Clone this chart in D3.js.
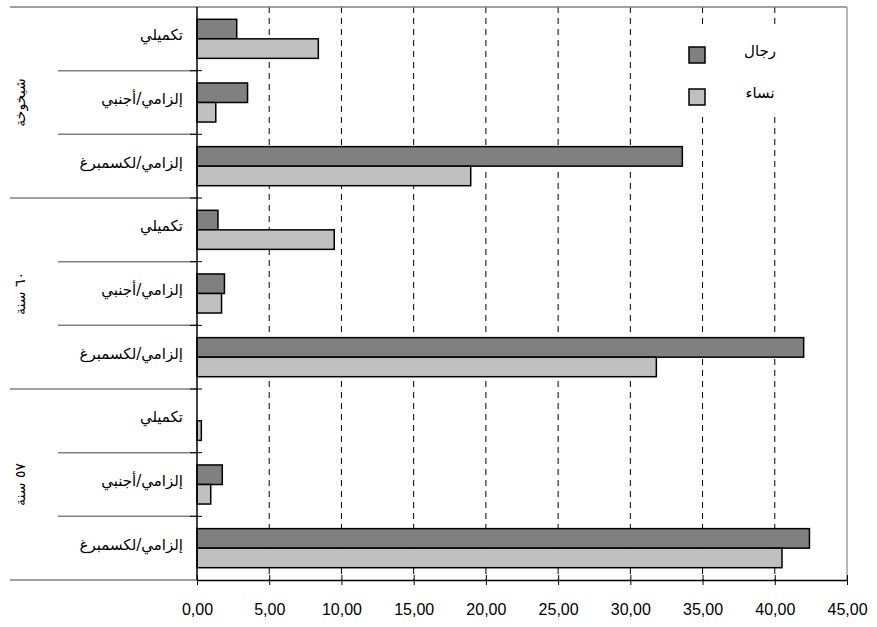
<!DOCTYPE html>
<html>
<head>
<meta charset="utf-8">
<script src="https://cdn.jsdelivr.net/npm/d3@7"></script>
<style>
  html, body { margin: 0; padding: 0; background: #fff; }
  svg { display: block; }
</style>
</head>
<body>
<svg id="chart" width="877" height="627"></svg>
<script>
// Age groups (top to bottom) and pension regimes within each group
const groups = ["شيخوخة", "٦٠ سنة", "٥٧ سنة"];
const regimes = ["تكميلي", "إلزامي/أجنبي", "إلزامي/لكسمبرغ"];
const series = ["رجال", "نساء"];

// Values per group, in regime order
const men   = [[2.75, 3.5, 33.6], [1.45, 1.9, 42.0], [0, 1.75, 42.4]];
const women = [[8.4, 1.3, 18.95], [9.5, 1.7, 31.8], [0.3, 0.95, 40.5]];

const xTicks = [0, 5, 10, 15, 20, 25, 30, 35, 40, 45];

const colors = { "رجال": "#808080", "نساء": "#c0c0c0" };
const arabicFont = "'DejaVu Sans', sans-serif";

const svg = d3.select("#chart");

const plotLeft = 197, plotRight = 847, plotTop = 7, plotBottom = 580;

const x = d3.scaleLinear().domain([0, 45]).range([plotLeft, plotRight]);

// One row per (group, regime)
const rows = [];
groups.forEach((g, gi) => regimes.forEach((r, ri) => rows.push({
  key: gi + "|" + ri, group: g, regime: r,
  values: { "رجال": men[gi][ri], "نساء": women[gi][ri] }
})));

const y = d3.scaleBand().domain(rows.map(d => d.key)).range([plotTop, plotBottom]).padding(0);
const ySub = d3.scaleBand().domain(series).range([0, y.bandwidth()])
  .paddingInner(0).paddingOuter(0.63);

// Vertical dashed gridlines
svg.append("g").selectAll("line")
  .data(xTicks.filter(t => t > 0 && t < 45))
  .join("line")
  .attr("x1", d => x(d)).attr("x2", d => x(d))
  .attr("y1", plotTop).attr("y2", plotBottom)
  .attr("stroke", "#000").attr("stroke-width", 1)
  .attr("stroke-dasharray", "6,5");

// Top frame and right frame
svg.append("line").attr("x1", 10).attr("x2", plotRight).attr("y1", plotTop).attr("y2", plotTop)
  .attr("stroke", "#808080").attr("stroke-width", 1.5);
svg.append("line").attr("x1", plotRight).attr("x2", plotRight).attr("y1", plotTop).attr("y2", plotBottom)
  .attr("stroke", "#a0a0a0").attr("stroke-width", 1.5);

// Category separators in the label area
const boundaries = d3.range(1, rows.length).map(i => plotTop + i * y.step());
svg.append("g").selectAll("line")
  .data(boundaries)
  .join("line")
  .attr("x1", (d, i) => ((i + 1) % 3 === 0) ? 10 : 58)
  .attr("x2", plotLeft)
  .attr("y1", d => d).attr("y2", d => d)
  .attr("stroke", "#808080").attr("stroke-width", 1.5);
svg.append("line").attr("x1", 10).attr("x2", plotLeft).attr("y1", plotBottom).attr("y2", plotBottom)
  .attr("stroke", "#808080").attr("stroke-width", 1.5);

// Bars
const rowG = svg.append("g").selectAll("g")
  .data(rows)
  .join("g")
  .attr("transform", d => `translate(0,${y(d.key)})`);

rowG.selectAll("rect")
  .data(d => series.map(s => ({ s, v: d.values[s] })).filter(e => e.v > 0))
  .join("rect")
  .attr("x", x(0))
  .attr("y", d => ySub(d.s))
  .attr("width", d => x(d.v) - x(0))
  .attr("height", ySub.bandwidth())
  .attr("fill", d => colors[d.s])
  .attr("stroke", "#000").attr("stroke-width", 1.5);

// Regime labels (right-aligned: with rtl direction, "start" is the right edge)
rowG.append("text")
  .attr("x", 183)
  .attr("y", y.bandwidth() / 2 - 3)
  .attr("text-anchor", "start")
  .attr("direction", "rtl")
  .attr("dominant-baseline", "middle")
  .attr("font-family", arabicFont)
  .attr("font-size", 15)
  .attr("fill", "#000")
  .text(d => d.regime);

// Group labels, rotated
svg.append("g").selectAll("text")
  .data(groups)
  .join("text")
  .attr("transform", (d, i) => `translate(21,${plotTop + (i * 3 + 1.5) * y.step()}) rotate(-90)`)
  .attr("text-anchor", "middle")
  .attr("direction", "rtl")
  .attr("dominant-baseline", "middle")
  .attr("font-family", arabicFont)
  .attr("font-size", 14)
  .attr("fill", "#000")
  .text(d => d);

// Left axis with crossing ticks
const yAxisLine = svg.append("g");
yAxisLine.append("line").attr("x1", plotLeft).attr("x2", plotLeft).attr("y1", plotTop).attr("y2", plotBottom)
  .attr("stroke", "#000").attr("stroke-width", 1.5);
yAxisLine.selectAll("line.tick")
  .data(boundaries)
  .join("line").attr("class", "tick")
  .attr("x1", plotLeft - 7).attr("x2", plotLeft + 5)
  .attr("y1", d => d).attr("y2", d => d)
  .attr("stroke", "#000").attr("stroke-width", 1);

// Bottom axis
const xAxis = d3.axisBottom(x)
  .tickValues(xTicks)
  .tickSizeInner(0).tickSizeOuter(0)
  .tickPadding(24)
  .tickFormat(d => d3.format(".2f")(d).replace(".", ","));

const gx = svg.append("g").attr("transform", `translate(0,${plotBottom})`).call(xAxis);
gx.select(".domain").attr("stroke", "#000").attr("stroke-width", 1.5);
gx.selectAll(".tick line").remove();
gx.selectAll(".tick").append("line")
  .attr("y1", -5).attr("y2", 5).attr("stroke", "#000").attr("stroke-width", 1);
gx.selectAll(".tick text")
  .attr("font-family", "'Liberation Sans', Arial, sans-serif")
  .attr("font-size", 16).attr("fill", "#000");

// Legend
const legend = svg.append("g");
legend.append("rect").attr("x", 678).attr("y", 26).attr("width", 112).attr("height", 88)
  .attr("fill", "#fff");
const li = legend.selectAll("g.item")
  .data(series)
  .join("g").attr("class", "item")
  .attr("transform", (d, i) => `translate(689,${47 + i * 42})`);
li.append("rect").attr("width", 16).attr("height", 16)
  .attr("fill", d => colors[d]).attr("stroke", "#000").attr("stroke-width", 1.5);
li.append("text")
  .attr("x", 71).attr("y", 4)
  .attr("text-anchor", "middle")
  .attr("direction", "rtl")
  .attr("dominant-baseline", "middle")
  .attr("font-family", arabicFont)
  .attr("font-size", 15)
  .attr("fill", "#000")
  .text(d => d);
</script>
</body>
</html>
